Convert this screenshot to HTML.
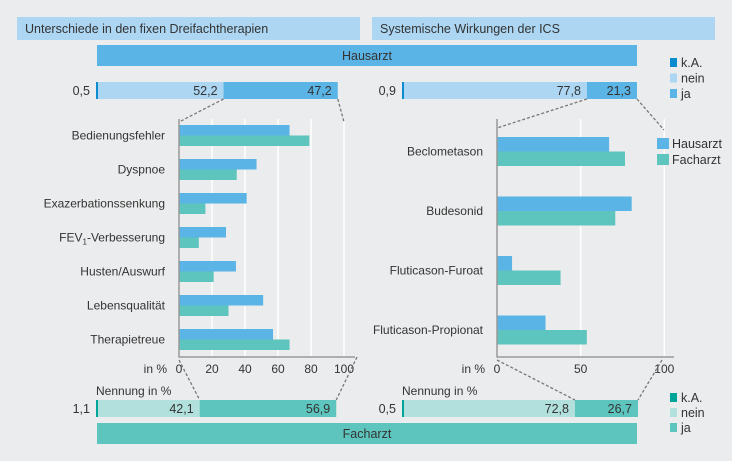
<!DOCTYPE html>
<html><head><meta charset="utf-8"><style>
html,body{margin:0;padding:0;background:#fff;overflow:hidden;}
svg{display:block;font-family:"Liberation Sans",sans-serif;}
</style></head><body>
<svg id="c" width="748" height="461" viewBox="0 0 748 461">
<rect x="0" y="0" width="732" height="461" fill="#ebeced"/>
<rect x="17" y="17" width="343" height="23" fill="#acd6f2"/>
<text x="25" y="33" font-size="12.5" fill="#333">Unterschiede in den fixen Dreifachtherapien</text>
<rect x="372" y="17" width="343" height="23" fill="#acd6f2"/>
<text x="380" y="33" font-size="12.5" fill="#333">Systemische Wirkungen der ICS</text>
<rect x="97" y="45" width="540" height="21" fill="#5ab4e5"/>
<text x="367" y="60" font-size="12.5" fill="#333" text-anchor="middle">Hausarzt</text>
<rect x="97" y="423" width="540" height="21" fill="#5dc5bd"/>
<text x="367" y="438" font-size="12.5" fill="#333" text-anchor="middle">Facharzt</text>
<g id="g"></g>
</svg>
<script>
const leftCats=["Bedienungsfehler","Dyspnoe","Exazerbationssenkung","FEV1-Verbesserung","Husten/Auswurf","Lebensqualität","Therapietreue"];
const leftHaus=[67,47,41,28.5,34.5,51,57];
const leftFach=[79,35,16,12,21,30,67];
const leftTicks=[0,20,40,60,80,100];
const rightCats=["Beclometason","Budesonid","Fluticason-Furoat","Fluticason-Propionat"];
const rightHaus=[67,80.5,9,29];
const rightFach=[76.5,70.7,38,53.7];
const rightTicks=[0,50,100];
const topLeft=[0.5,52.2,47.2];
const topRight=[0.9,77.8,21.3];
const botLeft=[1.1,42.1,56.9];
const botRight=[0.5,72.8,26.7];

const NS="http://www.w3.org/2000/svg";
const G=document.getElementById('g');
function el(t,a,p){const e=document.createElementNS(NS,t);for(const k in a)e.setAttribute(k,a[k]);(p||G).appendChild(e);return e;}
function tx(x,y,s,a,fs,anchor){const e=el('text',Object.assign({x:x,y:y,'font-size':fs||12,fill:'#333','text-anchor':anchor||'start'},a||{}));e.textContent=s;return e;}

function barChart(cfg){
  const sx=v=>cfg.x0+v*cfg.k;
  cfg.ticks.forEach((t,i)=>{
    if(t>0){const l=el('line',{x1:sx(t),x2:sx(t),y1:cfg.top,y2:cfg.bottom,stroke:'#fff','stroke-width':1.5});
    
    }
    const lab=tx(sx(t),cfg.bottom+16,String(t),{},12,'middle');
    
    
  });
  cfg.cats.forEach((c,i)=>{
    const y=cfg.first+i*cfg.pitch;
    const b=el('rect',{x:cfg.x0,y:y,width:cfg.haus[i]*cfg.k,height:cfg.bh,fill:'#5ab4e5'});
    
    
    const f=el('rect',{x:cfg.x0,y:y+cfg.bh,width:cfg.fach[i]*cfg.k,height:cfg.bh,fill:'#5dc5bd'});
    
    
    let lab;
    if(c==="FEV1-Verbesserung"){
      lab=el('text',{x:cfg.x0-14,y:y+cfg.bh+4,'font-size':12,fill:'#333','text-anchor':'end'});
      lab.innerHTML='FEV<tspan font-size="8" dy="3">1</tspan><tspan dy="-3">-Verbesserung</tspan>';
    } else lab=tx(cfg.x0-14,y+cfg.bh+4,c,{},12,'end');
    
    
  });
  const ax=el('path',{d:`M${cfg.x0},${cfg.top} V${cfg.bottom} H${cfg.axEnd}`,stroke:'#999','stroke-width':1.5,fill:'none'});
  
  
  const u=tx(cfg.x0-12,cfg.bottom+16,'in %',{},12,'end');
  
  
}
barChart({id:'left-chart',cats:leftCats,haus:leftHaus,fach:leftFach,ticks:leftTicks,x0:179,k:1.65,top:119,bottom:357,axEnd:355,first:125,pitch:34,bh:10.5});
barChart({id:'right-chart',cats:rightCats,haus:rightHaus,fach:rightFach,ticks:rightTicks,x0:497,k:1.673,top:119,bottom:357,axEnd:674,first:137,pitch:59.5,bh:14.5});

function stack(id,vals,x0,x1,y,cols){
  const k=(x1-x0)/100;
  const ka=el('rect',{x:x0,y:y,width:2,height:17,fill:cols[0]});
  
  
  const nStart=x0+2, nEnd=x0+(vals[0]+vals[1])*k;
  const n=el('rect',{x:nStart,y:y,width:nEnd-nStart,height:17,fill:cols[1]});
  
  
  const jEnd=nEnd+vals[2]*k;
  const j=el('rect',{x:nEnd,y:y,width:jEnd-nEnd,height:17,fill:cols[2]});
  
  
  const f=v=>String(v).replace('.',',');
  const a=tx(x0-6,y+13,f(vals[0]),{},12.5,'end');
  
  
  const b=tx(nEnd-6,y+13,f(vals[1]),{},12.5,'end');
  
  
  const c=tx(jEnd-6,y+13,f(vals[2]),{},12.5,'end');
  
  
  return {nEnd:nEnd,jEnd:jEnd};
}
const blue=['#0a8ccf','#acd6f2','#5ab4e5'], teal=['#00a59a','#b2e0dc','#5dc5bd'];
const tl=stack('top-left-stack',topLeft,96,338,82,blue);
const tr=stack('top-right-stack',topRight,402,637,82,blue);
const bl=stack('bottom-left-stack',botLeft,96,336,400,teal);
const br=stack('bottom-right-stack',botRight,402,638,400,teal);

function dash(x1,y1,x2,y2){const l=el('line',{x1:x1,y1:y1,x2:x2,y2:y2,stroke:'#777','stroke-width':1.3,'stroke-dasharray':'3,2'});

}
dash(tl.nEnd,99,179,122);dash(tl.jEnd,99,344,122);
dash(tr.nEnd,99,497,128);dash(tr.jEnd,99,664,130);
dash(179,360,bl.nEnd,400);dash(357,357,bl.jEnd,400);
dash(497,360,br.nEnd,400);dash(662,360,br.jEnd,400);

const n1=tx(96,395,'Nennung in %',{},12);


const n2=tx(402,395,'Nennung in %',{},12);



function legend(id,items,x,y0,step,sw,sh,tx0){
  items.forEach((it,i)=>{
    const y=y0+i*step;
    const r=el('rect',{x:x,y:y,width:sw,height:sh,fill:it[1]});
    
    
    const t=tx(tx0,y+sh/2+4.5,it[0],{},12.5);
    
    
  });
}
legend('top-legend',[['k.A.','#0a8ccf'],['nein','#acd6f2'],['ja','#5ab4e5']],670,58,15.5,7,9,681);
legend('bottom-legend',[['k.A.','#00a59a'],['nein','#b2e0dc'],['ja','#5dc5bd']],670,393,15,7,9,681);
legend('series-legend',[['Hausarzt','#5ab4e5'],['Facharzt','#5dc5bd']],657,138,16,12,11,672);
</script>
</body></html>
